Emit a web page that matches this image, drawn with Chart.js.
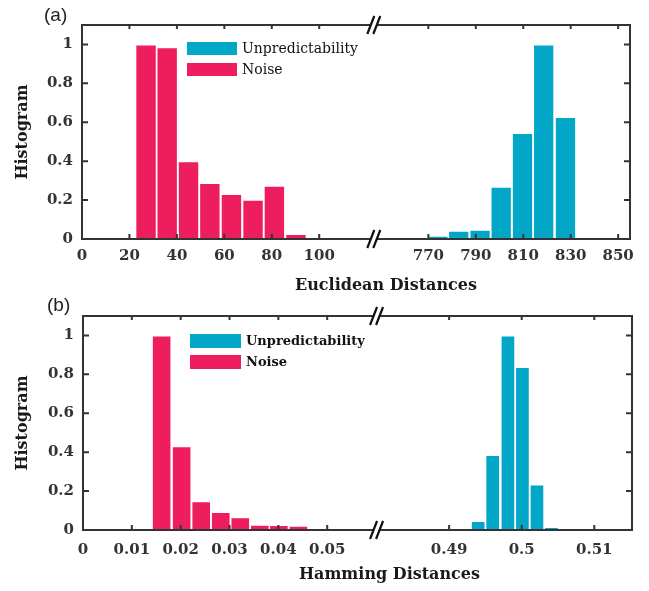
<!DOCTYPE html>
<html>
<head>
<meta charset="utf-8">
<script src="https://cdn.jsdelivr.net/npm/chart.js@4.4.1/dist/chart.umd.min.js"></script>
<style>
  html, body { margin: 0; padding: 0; background: #fff; }
  #wrap { position: relative; width: 649px; height: 591px; }
  .box { position: absolute; left: 0; width: 649px; }
</style>
</head>
<body>
<div id="wrap">
  <div class="box" style="top:0;height:295px"><canvas id="chartA"></canvas></div>
  <div class="box" style="top:295px;height:296px"><canvas id="chartB"></canvas></div>
</div>
<script>
// (a) Euclidean distances - bin centres and normalised counts
const euclidNoiseX = [27, 35.9, 44.9, 53.9, 63, 72.1, 81.1, 90.2];
const euclidNoiseY = [1.0, 0.986, 0.40, 0.288, 0.231, 0.202, 0.274, 0.026];
const euclidUnpredX = [774.0, 782.8, 791.8, 800.7, 809.7, 818.6, 827.8];
const euclidUnpredY = [0.017, 0.043, 0.048, 0.269, 0.545, 1.0, 0.627];
const euclidTicks = [0, 20, 40, 60, 80, 100, 770, 790, 810, 830, 850];

// (b) Hamming distances
const hammingNoiseX = [0.0161, 0.0202, 0.0242, 0.0282, 0.0322, 0.0362, 0.0401, 0.0441, 0.0482];
const hammingNoiseY = [1.0, 0.431, 0.148, 0.093, 0.065, 0.027, 0.026, 0.022, 0.009];
const hammingUnpredX = [0.4940, 0.4960, 0.4981, 0.5001, 0.5021, 0.5041];
const hammingUnpredY = [0.046, 0.385, 1.0, 0.838, 0.234, 0.015];
const hammingTicks = [0, 0.01, 0.02, 0.03, 0.04, 0.05, 0.49, 0.5, 0.51];

const histTicks = [0, 0.2, 0.4, 0.6, 0.8, 1];
const histLabels = ["0", "0.2", "0.4", "0.6", "0.8", "1"];

const UNPRED_COLOR = "#02a6c7";
const NOISE_COLOR = "#ee1d5e";
const SERIF = "'DejaVu Serif', serif";

// broken x axis: values above the gap are shifted (and scaled) next to the left part
function makeBreak(leftEnd, rightStart, ratio) {
    return {
        at: leftEnd,
        to: function(v) { return v <= leftEnd ? v : leftEnd + (v - rightStart) * ratio; }
    };
}

const decor = {
    id: "decor",
    afterDraw(chart, args, o) {
        const ctx = chart.ctx;
        const a = chart.chartArea;
        const xs = chart.scales.x, ys = chart.scales.y;
        ctx.save();
        // frame
        ctx.strokeStyle = "#333";
        ctx.lineWidth = 2;
        ctx.strokeRect(a.left, a.top, a.right - a.left, a.bottom - a.top);
        // inward ticks on all four sides
        ctx.beginPath();
        xs.ticks.forEach(t => {
            const px = xs.getPixelForValue(t.value);
            ctx.moveTo(px, a.bottom); ctx.lineTo(px, a.bottom - 5);
            ctx.moveTo(px, a.top); ctx.lineTo(px, a.top + 4);
        });
        ys.ticks.forEach(t => {
            const py = ys.getPixelForValue(t.value);
            ctx.moveTo(a.left, py); ctx.lineTo(a.left + 6, py);
            ctx.moveTo(a.right, py); ctx.lineTo(a.right - 6, py);
        });
        ctx.stroke();
        // axis break marks
        const bx = xs.getPixelForValue(o.breakAt);
        [a.top, a.bottom].forEach(ey => {
            ctx.fillStyle = "#fff";
            ctx.fillRect(bx - 3, ey - 2, 6, 4);
            ctx.beginPath();
            [-3, 3].forEach(d => {
                ctx.moveTo(bx + d - 3.5, ey + 9);
                ctx.lineTo(bx + d + 3.5, ey - 9);
            });
            ctx.strokeStyle = "#111";
            ctx.lineWidth = 2.2;
            ctx.stroke();
        });
        // legend
        const lg = o.legend;
        ctx.font = lg.font;
        ctx.textBaseline = "middle";
        ctx.textAlign = "left";
        chart.data.datasets.forEach((ds, i) => {
            const x0 = a.left + lg.dx, y0 = a.top + lg.dy + i * lg.row;
            ctx.fillStyle = ds.backgroundColor;
            ctx.fillRect(x0, y0, lg.w, lg.h);
            ctx.fillStyle = "#111";
            ctx.fillText(ds.label, x0 + lg.w + 5, y0 + lg.h / 2 + 1);
        });
        // x axis title
        ctx.font = "bold 16px " + SERIF;
        ctx.textAlign = "center";
        ctx.textBaseline = "alphabetic";
        ctx.fillStyle = "#1a1a1a";
        ctx.fillText(o.xTitle, (a.left + a.right) / 2 + o.xTitleDx, o.xTitleY);
        // panel letter
        ctx.font = "19px 'Liberation Sans', sans-serif";
        ctx.textAlign = "left";
        ctx.fillStyle = "#222";
        ctx.fillText(o.letter, o.letterX, o.letterY);
        ctx.restore();
    }
};

function buildChart(id, cfg) {
    const brk = cfg.brk;
    const series = [
        { label: "Unpredictability", xs: cfg.unpredX, ys: cfg.unpredY, color: UNPRED_COLOR },
        { label: "Noise", xs: cfg.noiseX, ys: cfg.noiseY, color: NOISE_COLOR }
    ];
    // bars fill their bins: compare each bin width with the smallest spacing Chart.js uses
    const allX = series.flatMap(s => s.xs.map(brk.to)).sort((p, q) => p - q);
    let minGap = Infinity;
    for (let i = 1; i < allX.length; i++) minGap = Math.min(minGap, allX[i] - allX[i - 1]);
    const binOf = s => (brk.to(s.xs[s.xs.length - 1]) - brk.to(s.xs[0])) / (s.xs.length - 1);

    const tickFont = { family: SERIF, size: 15, weight: "bold" };

    return new Chart(document.getElementById(id), {
        type: "bar",
        data: {
            datasets: series.map(s => ({
                label: s.label,
                data: s.xs.map((x, i) => ({ x: brk.to(x), y: s.ys[i] })),
                backgroundColor: s.color,
                borderColor: "#fff",
                borderWidth: 1,
                grouped: false,
                categoryPercentage: 1,
                barPercentage: binOf(s) / minGap
            }))
        },
        options: {
            responsive: true,
            maintainAspectRatio: false,
            animation: false,
            layout: { padding: { top: cfg.padTop, right: cfg.padRight, left: 0, bottom: 0 } },
            scales: {
                x: {
                    type: "linear",
                    offset: false,
                    min: 0,
                    max: cfg.xMax,
                    afterBuildTicks: s => { s.ticks = cfg.xTicks.map(v => ({ value: brk.to(v) })); },
                    ticks: {
                        autoSkip: false,
                        maxRotation: 0,
                        padding: cfg.xLabelPad,
                        font: tickFont,
                        color: "#333",
                        callback: (v, i) => String(cfg.xTicks[i])
                    },
                    grid: { display: false, drawTicks: false },
                    border: { display: false },
                    afterFit: s => { s.height = cfg.xAxisHeight; }
                },
                y: {
                    min: 0,
                    max: 1.1,
                    afterBuildTicks: s => { s.ticks = histTicks.map(v => ({ value: v })); },
                    ticks: {
                        padding: 9,
                        font: tickFont,
                        color: "#333",
                        callback: (v, i) => histLabels[i]
                    },
                    grid: { display: false, drawTicks: false },
                    border: { display: false },
                    title: {
                        display: true,
                        text: "Histogram",
                        color: "#1a1a1a",
                        font: { family: SERIF, size: 16, weight: "bold" },
                        padding: { top: 13, bottom: 0 }
                    },
                    afterFit: s => { s.width = cfg.yAxisWidth; }
                }
            },
            plugins: {
                legend: { display: false },
                tooltip: { enabled: false },
                decor: cfg.decor
            }
        },
        plugins: [decor]
    });
}

const euclidBreak = makeBreak(123, 747, 1);
buildChart("chartA", {
    brk: euclidBreak,
    noiseX: euclidNoiseX, noiseY: euclidNoiseY,
    unpredX: euclidUnpredX, unpredY: euclidUnpredY,
    xTicks: euclidTicks,
    xMax: 231,
    padTop: 25, padRight: 19,
    yAxisWidth: 82, xAxisHeight: 56, xLabelPad: 8,
    decor: {
        breakAt: euclidBreak.at,
        legend: { dx: 105, dy: 17, row: 21, w: 50, h: 13, font: "14px " + SERIF },
        xTitle: "Euclidean Distances", xTitleDx: 30, xTitleY: 290,
        letter: "(a)", letterX: 44, letterY: 21
    }
});

const hammingBreak = makeBreak(0.0601, 0.48, 1.486);
buildChart("chartB", {
    brk: hammingBreak,
    noiseX: hammingNoiseX, noiseY: hammingNoiseY,
    unpredX: hammingUnpredX, unpredY: hammingUnpredY,
    xTicks: hammingTicks,
    xMax: 0.1124,
    padTop: 21, padRight: 17,
    yAxisWidth: 83, xAxisHeight: 61, xLabelPad: 11,
    decor: {
        breakAt: hammingBreak.at,
        legend: { dx: 107, dy: 18, row: 21, w: 51, h: 14, font: "bold 13px " + SERIF },
        xTitle: "Hamming Distances", xTitleDx: 32, xTitleY: 284,
        letter: "(b)", letterX: 47, letterY: 16
    }
});
</script>
</body>
</html>
